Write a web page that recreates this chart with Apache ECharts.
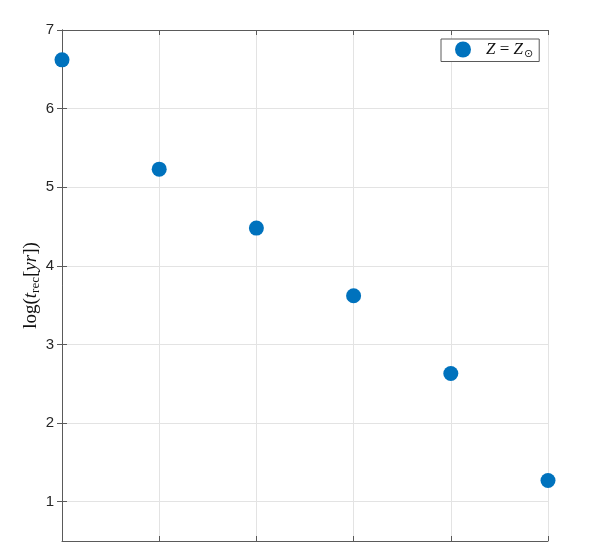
<!DOCTYPE html>
<html>
<head>
<meta charset="utf-8">
<script src="https://cdn.jsdelivr.net/npm/echarts@6/dist/echarts.min.js"></script>
<style>
  html, body { margin: 0; padding: 0; background: #fff; }
  #chart { width: 592px; height: 543px; }
</style>
</head>
<body>
<div id="chart"></div>
<script>
const xValues = [0, 1, 2, 3, 4, 5]
const tRec = [6.62, 5.23, 4.48, 3.62, 2.63, 1.27]
const yTicks = [1, 2, 3, 4, 5, 6, 7]

const axisColor = '#5a5a5a'
const gridColor = '#e3e3e3'
const serif = 'Liberation Serif, DejaVu Serif, serif'

const chart = echarts.init(document.getElementById('chart'), null, { renderer: 'canvas' })

const points = xValues.map((x, i) => [x, tRec[i]])

chart.setOption({
  animation: false,
  backgroundColor: '#fff',
  grid: {
    left: 62,
    top: 30,
    right: 44,
    bottom: 2,
    show: false
  },
  legend: {
    data: ['Z = Z⊙'],
    left: 441,
    top: 39,
    padding: [2, 6, 2, 14],
    itemWidth: 16,
    itemHeight: 16,
    backgroundColor: '#fff',
    borderColor: axisColor,
    borderWidth: 1,
    borderRadius: 0,
    formatter: () => '{a|}{i|Z}{n| = }{i|Z}{s|⊙}',
    textStyle: {
      rich: {
        a: { width: 10 },
        i: { fontFamily: serif, fontStyle: 'italic', fontSize: 17, color: '#111' },
        n: { fontFamily: serif, fontSize: 17, color: '#111' },
        s: { fontFamily: 'DejaVu Sans', fontSize: 11, color: '#111', verticalAlign: 'bottom', padding: [9, 0, 0, 1] }
      }
    }
  },
  xAxis: [{
    type: 'value',
    min: 0,
    max: 5,
    interval: 1,
    axisLine: { show: true, lineStyle: { color: axisColor } },
    axisTick: { show: true, inside: true, length: 5, lineStyle: { color: axisColor } },
    axisLabel: { show: false },
    splitLine: { show: true, lineStyle: { color: gridColor } }
  }, {
    type: 'value',
    position: 'top',
    min: 0,
    max: 5,
    interval: 1,
    axisLine: { show: true, lineStyle: { color: axisColor } },
    axisTick: { show: true, inside: true, length: 5, lineStyle: { color: axisColor } },
    axisLabel: { show: false },
    splitLine: { show: false }
  }],
  yAxis: [{
    type: 'value',
    min: 0.5,
    max: 7,
    interval: 1,
    axisLine: { show: true, lineStyle: { color: axisColor } },
    axisTick: { show: true, inside: true, length: 5, lineStyle: { color: axisColor },
      customValues: yTicks },
    axisLabel: {
      color: '#262626',
      fontFamily: 'Liberation Sans, Arial, sans-serif',
      fontSize: 15,
      margin: 8,
      customValues: yTicks
    },
    splitLine: { show: true, lineStyle: { color: gridColor } },
    name: '{n|log(}{i|t}{s|rec}{n|[}{i|yr}{n|])}',
    nameLocation: 'middle',
    nameGap: 20,
    nameRotate: 90,
    nameMoveOverlap: false,
    nameTextStyle: {
      rich: {
        n: { fontFamily: serif, fontSize: 19, color: '#111' },
        i: { fontFamily: serif, fontStyle: 'italic', fontSize: 19, color: '#111' },
        s: { fontFamily: serif, fontSize: 13, color: '#111', verticalAlign: 'bottom', padding: [9, 0, 0, 0] }
      }
    }
  }, {
    type: 'value',
    position: 'right',
    min: 0.5,
    max: 7,
    interval: 1,
    axisLine: { show: true, lineStyle: { color: axisColor } },
    axisTick: { show: true, inside: true, length: 5, lineStyle: { color: axisColor },
      customValues: yTicks },
    axisLabel: { show: false },
    splitLine: { show: false }
  }],
  series: [{
    name: 'Z = Z⊙',
    type: 'scatter',
    data: points,
    symbol: 'circle',
    symbolSize: 15,
    itemStyle: { color: '#0072BD', opacity: 1 }
  }]
})
</script>
</body>
</html>
